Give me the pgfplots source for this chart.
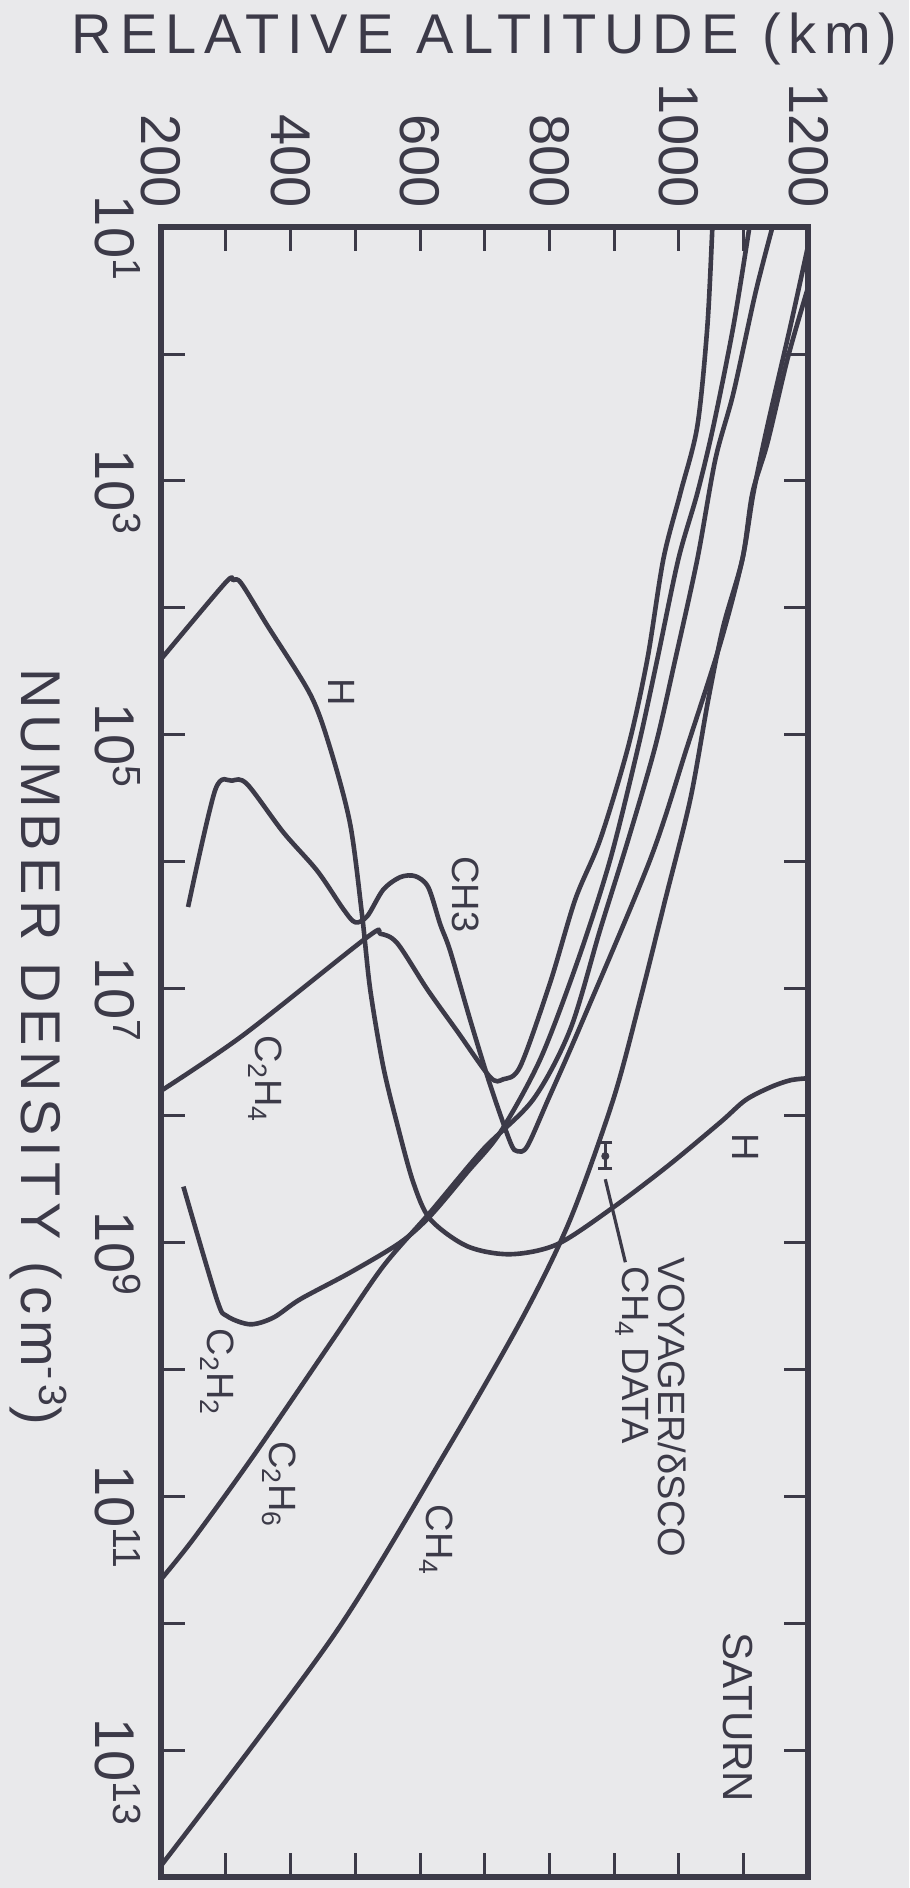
\documentclass[border=0pt]{standalone}
\usepackage{fontspec}
\setmainfont{Liberation Sans}
\newfontfamily\titlefont{Liberation Sans}[LetterSpace=14]
\newfontfamily\ylabfont{Liberation Sans}[LetterSpace=10.5]
\usepackage{pgfplots}
\pgfplotsset{compat=1.18}

\definecolor{ink}{RGB}{60,58,72}
\definecolor{paper}{RGB}{233,233,235}
\newcommand{\axfont}{\fontsize{28}{30}\selectfont}
\newcommand{\lblfont}{\fontsize{19}{21}\selectfont}
\newcommand{\dec}[1]{\phantom{\textsuperscript{#1}}10\textsuperscript{#1}}

\begin{document}
\begin{tikzpicture}
\path[use as bounding box, fill=paper] (-80.5pt,-5.5pt) rectangle (374pt,938pt);
\begin{axis}[
    at={(0pt,0pt)}, anchor=south west,
    scale only axis, width=323.5pt, height=824.5pt,
    xmin=200, xmax=1200,
    ymode=log, ymin=1e1, ymax=1e14, y dir=reverse,
    xtick={200,400,600,800,1000,1200},
    xticklabels={200,400,600,800,1000,1200},
    minor xtick={300,500,700,900,1100},
    ytick={1e1,1e3,1e5,1e7,1e9,1e11,1e13},
    yticklabels={\dec{1},\dec{3},\dec{5},\dec{7},\dec{9},\dec{11},\dec{13}},
    minor ytick={1e2,1e4,1e6,1e8,1e10,1e12},
    xtick pos=both, ytick pos=both,
    xticklabel pos=upper, yticklabel pos=left,
    tick align=inside,
    major tick length=12pt, minor tick length=12pt,
    tick style={ink, line width=1.5pt},
    axis line style={ink, line width=3pt},
    ticklabel style={font=\axfont, text=ink},
    xticklabel style={rotate=-90, anchor=east, inner sep=0pt},
    xticklabel shift=9.5pt,
    yticklabel style={rotate=-90, anchor=north, inner sep=0pt},
    yticklabel shift=10pt,
    xlabel={\titlefont RELATIVE ALTITUDE (km)},
    ylabel={\ylabfont NUMBER DENSITY (cm\textsuperscript{-3})},
    xlabel style={at={(axis description cs:0.5,1.1055)}, anchor=base, font=\axfont, text=ink},
    ylabel style={at={(axis description cs:-0.215,0.503)}, rotate=180, anchor=base, font=\axfont, text=ink},
    curve/.style={ink, line width=2.3pt, smooth, tension=0.5, mark=none, line join=round},
    thin curve/.style={ink, line width=1.6pt},
]

% H
\addplot[curve] coordinates {
  (200,2.535e4) (298.9,6.38e3) (311.3,6.05e3) (323.6,6.38e3) (363.8,1.368e4)
  (430.3,4.786e4) (461.2,1.276e5) (492.1,5.058e5) (510.7,2.692e6) (523.0,1.012e7)
  (543.1,4.093e7) (564.8,1.172e8) (589.5,3.357e8) (615.8,6.561e8) (673.0,1.072e9)
  (739.4,1.239e9) (812.1,1.033e9) (898.6,5.284e8) (982.1,2.512e8) (1064.0,1.130e8)
  (1102.6,7.568e7) (1141.3,5.984e7) (1172.2,5.272e7) (1200,5.082e7)
};

% CH3
\addplot[curve] coordinates {
  (241.7,2.275e6) (283.5,2.735e5) (309.7,2.301e5) (332.9,2.449e5) (388.6,5.848e5)
  (441.1,1.178e6) (481.3,2.355e6) (499.8,3.00e6) (518.4,2.692e6) (543.1,1.663e6)
  (569.4,1.324e6) (592.6,1.300e6) (612.7,1.589e6) (631.2,3.112e6) (646.7,5.070e6)
  (677.6,1.774e7) (708.5,5.768e7)
  (739.4,1.622e8) (750.2,1.910e8) (765.7,1.746e8) (798.1,7.447e7) (847.6,1.977e7)
  (955.8,9.550e5) (1013.0,1.230e5) (1064.0,1.897e4) (1098.0,4.130e3) (1115.0,1.247e3)
  (1136.6,369.8) (1172.2,60.26) (1200,13.61)
};

% C2H4
\addplot[curve] coordinates {
  (200,6.383e7) (326.7,2.328e7) (518.4,3.936e6) (538.5,3.698e6) (564.8,4.385e6)
  (611.1,1.012e7) (657.5,2.168e7) (708.5,4.989e7) (728.6,5.176e7) (754.9,4.093e7)
  (801.2,8.913e6) (839.9,1.977e6) (878.5,6.653e5) (921.8,1.230e5) (951.2,2.535e4)
  (975.9,4.130e3) (1002.2,1.247e3) (1028.4,369.8) (1043.9,60.26) (1051.6,10)
};

% C2H2
\addplot[curve] coordinates {
  (234.5,3.631e8) (286.1,2.805e9) (301.5,3.793e9) (337.6,4.416e9) (373.6,3.908e9)
  (414.8,2.805e9) (492.1,1.726e9) (569.4,1.002e9) (615.8,6.180e8) (673.0,2.799e8)
  (724.0,1.355e8) (785.8,3.597e7) (844.5,5.861e6) (894.0,9.550e5) (937.3,1.230e5)
  (966.6,2.535e4) (999.1,4.130e3) (1028.4,1.247e3) (1053.2,369.8) (1084.1,60.26)
  (1108.8,10)
};

% C2H6
\addplot[curve] coordinates {
  (200,4.508e11) (249.5,2.183e11) (342.2,4.842e10) (465.8,5.794e9)
  (543.1,1.542e9) (615.8,5.781e8) (697.7,1.845e8) (775.0,7.447e7) (832.2,2.089e7)
  (878.5,3.404e6) (921.8,6.653e5) (963.5,1.230e5) (994.4,2.535e4) (1028.4,4.130e3)
  (1056.3,673.0) (1084.1,203.2) (1118.1,33.11) (1144.4,10)
};

% CH4
\addplot[curve] coordinates {
  (200,8.128e13) (465.8,1.268e12) (642.0,4.266e10) (759.5,3.819e9) (832.2,6.561e8)
  (898.6,7.447e7) (940.3,1.213e7) (979.0,1.977e6) (1017.6,3.214e5) (1045.4,5.236e4)
  (1068.6,1.393e4) (1098.0,4.130e3) (1113.5,1.247e3) (1136.6,503.5) (1167.6,109.6)
  (1195.4,34.99) (1200,29.72)
};

% Voyager CH4 data point and leader
\addplot[thin curve, mark=-, mark size=3.5pt, mark options={ink, line width=1.6pt}]
  coordinates {(886.2,1.622e8) (886.2,2.630e8)};
\addplot[ink, only marks, mark=*, mark size=1.8pt] coordinates {(886.2,2.089e8)};
\addplot[thin curve] coordinates {(886.2,3.177e8) (917.2,1.432e9)};

\node[rotate=-90, font=\lblfont, text=ink] at (axis cs:478.2,4.613e4) {H};
\node[rotate=-90, font=\lblfont, text=ink] at (axis cs:669.9,1.803e6) {CH3};
\node[rotate=-90, font=\lblfont, text=ink] at (axis cs:360.7,5.176e7) {C\textsubscript{2}H\textsubscript{4}};
\node[rotate=-90, font=\lblfont, text=ink] at (axis cs:1102.6,1.778e8) {H};
\node[rotate=-90, font=\lblfont, text=ink] at (axis cs:286.6,1.054e10) {C\textsubscript{2}H\textsubscript{2}};
\node[rotate=-90, font=\lblfont, text=ink] at (axis cs:382.4,8.054e10) {C\textsubscript{2}H\textsubscript{6}};
\node[rotate=-90, font=\lblfont, text=ink] at (axis cs:625.0,2.223e11) {CH\textsubscript{4}};
\node[rotate=-90, font=\fontsize{21}{23}\selectfont, text=ink] at (axis cs:1091.8,5.521e12) {SATURN};
\node[rotate=-90, anchor=west, inner sep=0pt, font=\lblfont, text=ink] at (axis cs:989.8,1.309e9) {VOYAGER/δSCO};
\node[rotate=-90, anchor=west, inner sep=0pt, font=\lblfont, text=ink] at (axis cs:928.0,1.542e9) {CH\textsubscript{4} DATA};
\end{axis}
\end{tikzpicture}
\end{document}
